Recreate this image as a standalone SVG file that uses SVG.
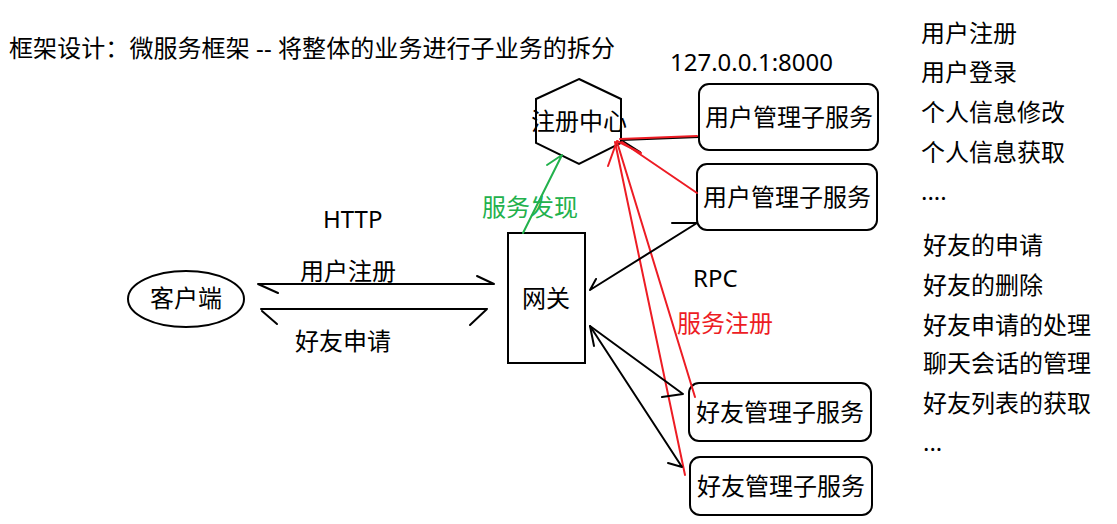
<svg xmlns="http://www.w3.org/2000/svg" width="1117" height="524" viewBox="0 0 1117 524">
<style>
text{font-family:"Noto Sans","Noto Sans CJK SC",sans-serif;font-size:24px;fill:#000}
.c{text-anchor:middle}
.shape{fill:none;stroke:#000;stroke-width:2}
.k{stroke:#000;stroke-width:2;fill:none;stroke-linecap:round}
.r{stroke:#ed1c24;stroke-width:2;fill:none;stroke-linecap:round}
.g{stroke:#22b14c;stroke-width:2;fill:none;stroke-linecap:round}
.red{fill:#ed1c24}
.green{fill:#22b14c}
</style>
<rect width="1117" height="524" fill="#fff"/>
<text id="title" x="9" y="57" textLength="606" lengthAdjust="spacing">框架设计：微服务框架 -- 将整体的业务进行子业务的拆分</text>
<g id="registry">
<polygon class="shape" points="579,79 621,99 621,143 579,164 536,143 536,99"/>
<text class="c" x="579" y="130">注册中心</text>
</g>
<g id="gateway">
<rect class="shape" x="508" y="233" width="77" height="130"/>
<text class="c" x="546" y="307">网关</text>
</g>
<g id="client">
<ellipse class="shape" cx="186" cy="299" rx="58" ry="28"/>
<text class="c" x="186" y="307">客户端</text>
</g>
<g id="user-service-1">
<rect class="shape" x="699" y="84" width="179" height="66" rx="10"/>
<text class="c" x="789" y="126">用户管理子服务</text>
</g>
<g id="user-service-2">
<rect class="shape" x="697" y="164" width="180" height="66" rx="10"/>
<text class="c" x="787" y="206">用户管理子服务</text>
</g>
<g id="friend-service-1">
<rect class="shape" x="689" y="383" width="182" height="58" rx="10"/>
<text class="c" x="780" y="421">好友管理子服务</text>
</g>
<g id="friend-service-2">
<rect class="shape" x="690" y="457" width="182" height="58" rx="10"/>
<text class="c" x="781" y="495">好友管理子服务</text>
</g>
<g id="connectors">
<!-- client <-> gateway -->
<path class="k" d="M258,284 L494,284 M258,284 L278,293 M494,284 L477,276"/>
<path class="k" d="M261,309 L487,309 M262,311 L277,324 M487,309 L470,325"/>
<!-- gateway -> registry (discovery) -->
<path class="g" d="M523,233 L562,155 M562,155 L547,165"/>
<!-- user service 1 <-> registry -->
<path class="k" d="M621,140 L699,137 M621,140 L640,152"/>
<path class="r" d="M620,139 L697,136"/>
<!-- red registration lines -->
<path class="r" d="M617,141 L608,166 M617,141 L641,153"/>
<path class="r" d="M622,142 L697,193"/>
<path class="r" d="M615,142 L685,475"/>
<path class="r" d="M617,142 L695,397"/>
<!-- user service 2 <-> gateway -->
<path class="k" d="M697,223 L590,290 M590,290 L596,279 M697,223 L672,223"/>
<!-- gateway <-> friend services -->
<path class="k" d="M590,326 L683,394 M590,326 L594,346 M662,397 L683,394"/>
<path class="k" d="M590,326 L682,467 M668,463 L682,467"/>
</g>
<g id="labels">
<text x="670" y="71">127.0.0.1:8000</text>
<text x="323" y="228">HTTP</text>
<text x="300" y="280">用户注册</text>
<text x="295" y="350">好友申请</text>
<text class="green" x="482" y="216">服务发现</text>
<text x="693" y="287">RPC</text>
<text class="red" x="677" y="332">服务注册</text>
</g>
<g id="feature-list">
<text x="921" y="42">用户注册</text>
<text x="921" y="81">用户登录</text>
<text x="921" y="121">个人信息修改</text>
<text x="921" y="161">个人信息获取</text>
<text x="921" y="200">....</text>
<text x="923" y="254">好友的申请</text>
<text x="923" y="294">好友的删除</text>
<text x="923" y="334">好友申请的处理</text>
<text x="923" y="372">聊天会话的管理</text>
<text x="923" y="412">好友列表的获取</text>
<text x="923" y="451">...</text>
</g>
</svg>
